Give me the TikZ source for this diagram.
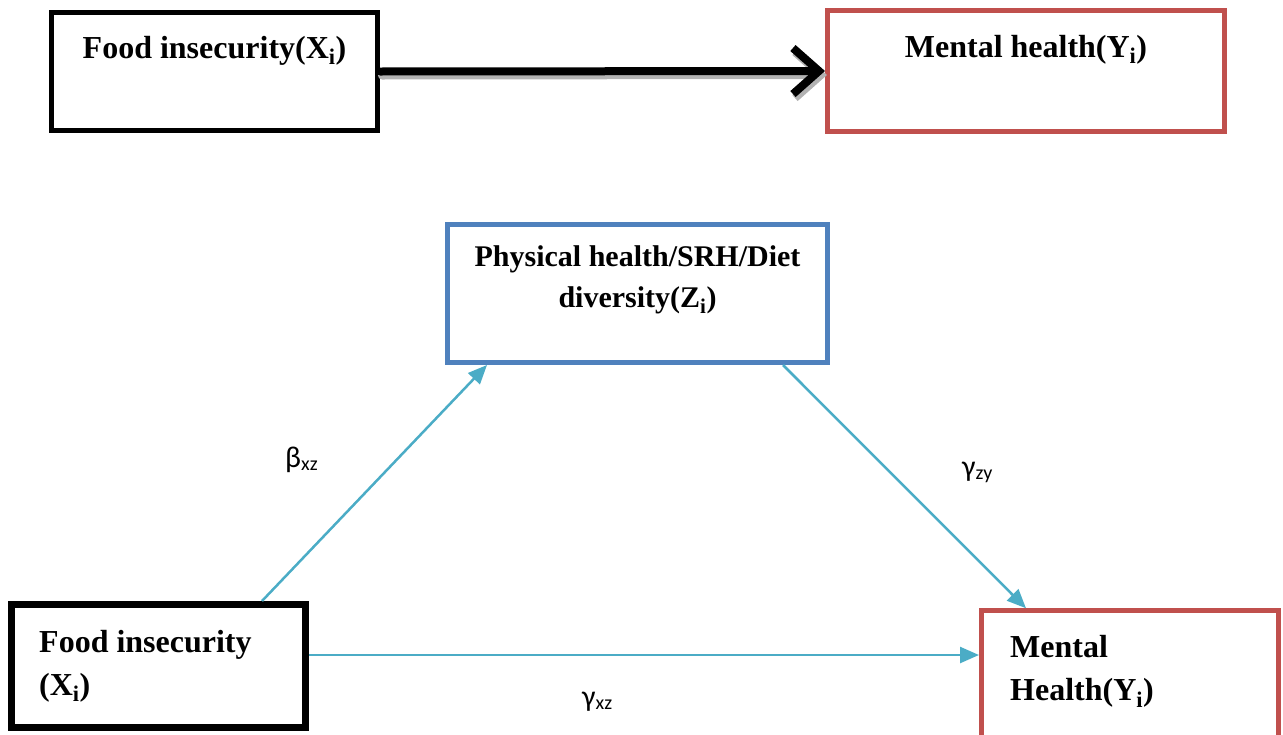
\documentclass[tikz,border=0pt]{standalone}
\usepackage{fontspec}
\setmainfont{Liberation Serif}
\newfontfamily\grkfont{Carlito}
\usetikzlibrary{arrows.meta,positioning}
\definecolor{boxred}{RGB}{192,80,77}
\definecolor{boxblue}{RGB}{79,129,189}
\definecolor{pathaqua}{RGB}{75,172,198}
\newcommand{\coef}[2]{{\grkfont\fontsize{30}{34}\selectfont #1\raisebox{-3pt}{\fontsize{20}{22}\selectfont #2}}}

\begin{document}
\begin{tikzpicture}[line cap=round,line join=round,>={Triangle[length=19pt,width=16pt]},x=1pt,y=1pt,
    varbox/.style={draw,line width=5pt,line cap=butt,line join=miter,inner sep=0pt,fill=white},
    vartext/.style={font=\bfseries\fontsize{32}{43}\selectfont,inner sep=0pt},
    patharrow/.style={->,draw=pathaqua,line width=2.5pt,line cap=butt},
    coeflabel/.style={inner sep=0pt,anchor=base west}]
        \useasboundingbox (0,0) rectangle (1283,-734);
        \clip (0,0) rectangle (1283,-734);

        % direct effect
        \node[varbox,minimum width=326pt,minimum height=118pt] (food1) at (214.5,-71.5) {};
        \node[varbox,draw=boxred,minimum width=397pt,minimum height=121pt] (ment1) at (1026,-71) {};
        \node[vartext,anchor=base] (food1txt) at ([yshift=-48pt]food1.north) {Food insecurity(X\textsubscript{i})};
        \node[vartext,anchor=base] (ment1txt) at ([yshift=-49pt]ment1.north) {Mental health(Y\textsubscript{i})};
        \draw [line width=8pt,gray!60,-{Straight Barb[length=26pt,width=46pt]}] ([xshift=2pt,yshift=-4pt]food1.east) -- ([xshift=2pt,yshift=-4pt]ment1.west);
        \draw [line width=8pt,black,-{Straight Barb[length=26pt,width=46pt]}] (food1.east) -- (ment1.west);

        % mediation
        \node[varbox,draw=boxblue,minimum width=380pt,minimum height=138pt] (diet) at (637.5,-293.5) {};
        \node[varbox,line width=7pt,minimum width=294pt,minimum height=123pt] (food2) at (158.5,-666) {};
        \node[varbox,draw=boxred,minimum width=297pt,minimum height=134pt] (ment2) at (1130,-677.75) {};
        \node[vartext,font=\bfseries\fontsize{30}{41}\selectfont,align=center,anchor=base] (diettxt) at ([yshift=-85pt]diet.north) {Physical health/SRH/Diet\\diversity(Z\textsubscript{i})};
        \node[vartext,align=left,anchor=base west] (food2txt) at ([xshift=31pt,yshift=-94pt]food2.north west) {Food insecurity\\(X\textsubscript{i})};
        \node[vartext,align=left,anchor=base west] (ment2txt) at ([xshift=31pt,yshift=-92pt]ment2.north west) {Mental\\Health(Y\textsubscript{i})};

        \draw[patharrow] ([xshift=103.5pt]food2.north) -- ([xshift=-150.5pt]diet.south);
        \draw[patharrow] ([xshift=145.5pt]diet.south) -- ([xshift=-104pt]ment2.north);
        \draw[patharrow] ([yshift=11pt]food2.east) -- ([yshift=11pt]food2.east -| ment2.west);

        \node[coeflabel] (bxz) at (285,-467) {\coef{β}{xz}};
        \node[coeflabel] (gzy) at (962,-476) {\coef{γ}{zy}};
        \node[coeflabel] (gxz) at (582,-706) {\coef{γ}{xz}};
\end{tikzpicture}
\end{document}
